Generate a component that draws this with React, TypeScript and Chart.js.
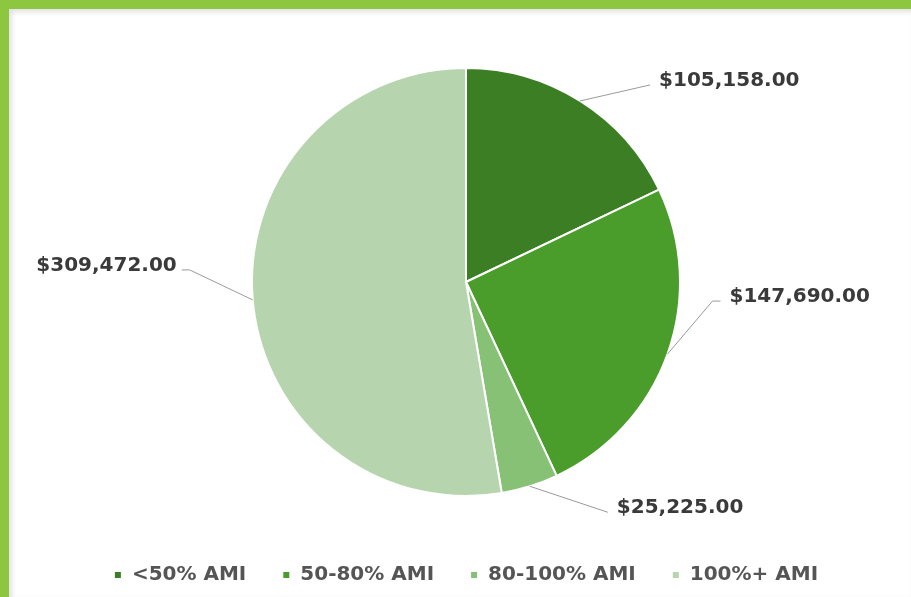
import React, { useEffect, useRef } from "react";
import { Chart, registerables } from "chart.js";

Chart.register(...registerables);

const categories = ["<50% AMI", "50-80% AMI", "80-100% AMI", "100%+ AMI"];
const values = [105158, 147690, 25225, 309472];
const sliceColors = ["#3b7e23", "#4b9d2b", "#86c176", "#b6d5ae"];
// leader-line offsets (from slice edge) and horizontal elbow length per label
const labelOffsets = [
  [70, -16],
  [45, -53],
  [78, 26],
  [-63, -30],
];
const elbows = [0, 8, 0, 8];

const fmt = (v: number) =>
  "$" + v.toLocaleString("en-US", { minimumFractionDigits: 2, maximumFractionDigits: 2 });

const labelPlugin = {
  id: "outsideLabels",
  afterDatasetsDraw(chart: any) {
    const ctx = chart.ctx;
    const meta = chart.getDatasetMeta(0);
    ctx.save();
    meta.data.forEach((arc: any, i: number) => {
      const { x, y, startAngle, endAngle, outerRadius } = arc.getProps(
        ["x", "y", "startAngle", "endAngle", "outerRadius"],
        true
      );
      const mid = (startAngle + endAngle) / 2;
      const sx = x + Math.cos(mid) * outerRadius;
      const sy = y + Math.sin(mid) * outerRadius;
      const [ox, oy] = labelOffsets[i];
      const ex = sx + ox;
      const ey = sy + oy;
      const right = ox >= 0;
      const hx = ex + (right ? elbows[i] : -elbows[i]);
      ctx.beginPath();
      ctx.moveTo(sx, sy);
      ctx.lineTo(ex, ey);
      ctx.lineTo(hx, ey);
      ctx.strokeStyle = "#9a9a9a";
      ctx.lineWidth = 1;
      ctx.stroke();
      ctx.font = "bold 20px 'DejaVu Sans'";
      ctx.fillStyle = "#3a3a3a";
      ctx.textBaseline = "middle";
      ctx.textAlign = right ? "left" : "right";
      ctx.fillText(fmt(values[i]), hx + (right ? 9 : -5), ey - 4);
    });
    ctx.restore();
  },
};

export default function App() {
  const ref = useRef<HTMLCanvasElement>(null);
  useEffect(() => {
    if (!ref.current) return;
    const chart = new Chart(ref.current, {
      type: "pie",
      data: {
        labels: categories,
        datasets: [
          {
            data: values,
            backgroundColor: sliceColors,
            borderColor: "#ffffff",
            borderWidth: 2,
            radius: 214,
          } as any,
        ],
      },
      options: {
        animation: false,
        responsive: false,
        layout: { padding: { top: 26, left: 12, right: 0, bottom: 0 } },
        plugins: {
          tooltip: { enabled: false },
          legend: {
            position: "bottom",
            labels: {
              boxWidth: 8,
              boxHeight: 8,
              padding: 36,
              color: "#555555",
              font: { family: "'DejaVu Sans'", size: 20, weight: "bold" },
            },
          },
        },
      },
      plugins: [labelPlugin],
    });
    return () => chart.destroy();
  }, []);

  return (
    <div
      style={{
        position: "fixed",
        left: 0,
        top: 0,
        width: 911,
        height: 597,
        background: "#8dc63f",
        overflow: "hidden",
      }}
    >
      <div
        style={{
          position: "absolute",
          left: 9,
          top: 9,
          width: 902,
          height: 588,
          background: "#ffffff",
          boxShadow: "inset 3px 3px 5px rgba(0,0,0,0.12)",
        }}
      >
        <canvas ref={ref} width={902} height={586} style={{ display: "block" }} />
      </div>
    </div>
  );
}
